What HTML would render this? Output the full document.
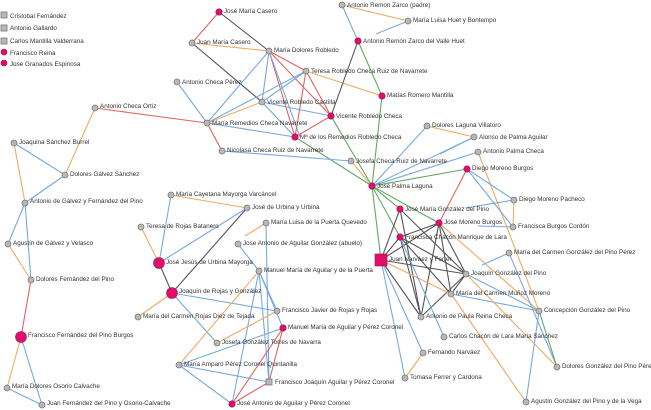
<!DOCTYPE html>
<html><head><meta charset="utf-8"><style>
html,body{margin:0;padding:0;background:#fff;width:651px;height:410px;overflow:hidden}
svg text{font-family:"Liberation Sans",sans-serif;font-size:6.3px;fill:#333}
.b{stroke:#76a9e0}.o{stroke:#f0aa66}.r{stroke:#e06464}.d{stroke:#555}.g{stroke:#62a862}
line{stroke-width:1.1}
.n{fill:#b8b8b8;stroke:#777;stroke-width:0.8}
.p{fill:#e0106a;stroke:#a01050;stroke-width:0.6}
</style></head><body>
<svg width="651" height="410" viewBox="0 0 651 410" xmlns="http://www.w3.org/2000/svg">
<g>
<line class="r" x1="219" y1="12" x2="192" y2="43"/>
<line class="d" x1="219" y1="12" x2="269" y2="51"/>
<line class="o" x1="192" y1="43" x2="269" y2="51"/>
<line class="d" x1="192" y1="43" x2="262" y2="102"/>
<line class="b" x1="269" y1="51" x2="207" y2="123"/>
<line class="b" x1="269" y1="51" x2="262" y2="102"/>
<line class="r" x1="269" y1="51" x2="295" y2="137"/>
<line class="r" x1="269" y1="51" x2="331" y2="116"/>
<line class="r" x1="269" y1="51" x2="306" y2="71"/>
<line class="b" x1="269" y1="51" x2="300" y2="137"/>
<line class="b" x1="306" y1="71" x2="207" y2="123"/>
<line class="b" x1="306" y1="71" x2="262" y2="102"/>
<line class="r" x1="306" y1="71" x2="295" y2="137"/>
<line class="r" x1="306" y1="71" x2="331" y2="116"/>
<line class="o" x1="306" y1="71" x2="382" y2="96"/>
<line class="b" x1="177" y1="82" x2="207" y2="123"/>
<line class="r" x1="207" y1="123" x2="95" y2="108"/>
<line class="r" x1="207" y1="123" x2="222" y2="151"/>
<line class="o" x1="207" y1="123" x2="262" y2="102"/>
<line class="b" x1="207" y1="123" x2="295" y2="137"/>
<line class="b" x1="262" y1="102" x2="331" y2="116"/>
<line class="b" x1="262" y1="102" x2="295" y2="137"/>
<line class="r" x1="331" y1="116" x2="295" y2="137"/>
<line class="d" x1="331" y1="116" x2="358" y2="41"/>
<line class="g" x1="331" y1="116" x2="372" y2="186"/>
<line class="g" x1="295" y1="137" x2="372" y2="186"/>
<line class="b" x1="222" y1="151" x2="351" y2="161"/>
<line class="o" x1="351" y1="161" x2="372" y2="186"/>
<line class="o" x1="342" y1="5" x2="408" y2="21"/>
<line class="b" x1="342" y1="5" x2="358" y2="41"/>
<line class="b" x1="408" y1="21" x2="376" y2="34"/>
<line class="g" x1="358" y1="41" x2="382" y2="96"/>
<line class="g" x1="382" y1="96" x2="372" y2="186"/>
<line class="b" x1="372" y1="186" x2="427" y2="126"/>
<line class="b" x1="372" y1="186" x2="474" y2="137"/>
<line class="b" x1="372" y1="186" x2="478" y2="152"/>
<line class="b" x1="440" y1="154" x2="474" y2="137"/>
<line class="g" x1="372" y1="186" x2="467" y2="169"/>
<line class="g" x1="372" y1="186" x2="400" y2="209"/>
<line class="g" x1="372" y1="186" x2="439" y2="223"/>
<line class="g" x1="372" y1="186" x2="381" y2="260"/>
<line class="g" x1="372" y1="186" x2="400" y2="237"/>
<line class="o" x1="427" y1="126" x2="474" y2="137"/>
<line class="o" x1="478" y1="152" x2="539" y2="311"/>
<line class="r" x1="467" y1="169" x2="439" y2="223"/>
<line class="b" x1="467" y1="169" x2="514" y2="200"/>
<line class="b" x1="467" y1="169" x2="513" y2="227"/>
<line class="o" x1="514" y1="200" x2="513" y2="227"/>
<line class="b" x1="465" y1="208" x2="514" y2="200"/>
<line class="b" x1="478" y1="226" x2="513" y2="227"/>
<line class="d" x1="400" y1="209" x2="381" y2="260"/>
<line class="d" x1="400" y1="209" x2="421" y2="317"/>
<line class="d" x1="400" y1="209" x2="466" y2="274"/>
<line class="d" x1="439" y1="223" x2="381" y2="260"/>
<line class="d" x1="439" y1="223" x2="400" y2="237"/>
<line class="d" x1="439" y1="223" x2="421" y2="317"/>
<line class="d" x1="439" y1="223" x2="451" y2="294"/>
<line class="d" x1="439" y1="223" x2="466" y2="274"/>
<line class="d" x1="400" y1="237" x2="381" y2="260"/>
<line class="d" x1="400" y1="237" x2="451" y2="294"/>
<line class="d" x1="400" y1="237" x2="466" y2="274"/>
<line class="d" x1="381" y1="260" x2="466" y2="274"/>
<line class="d" x1="381" y1="260" x2="421" y2="317"/>
<line class="d" x1="451" y1="294" x2="466" y2="274"/>
<line class="d" x1="421" y1="317" x2="466" y2="274"/>
<line class="d" x1="400" y1="237" x2="421" y2="317"/>
<line class="o" x1="381" y1="260" x2="451" y2="294"/>
<line class="b" x1="381" y1="260" x2="423" y2="353"/>
<line class="b" x1="381" y1="260" x2="405" y2="378"/>
<line class="o" x1="423" y1="353" x2="405" y2="378"/>
<line class="b" x1="400" y1="237" x2="444" y2="337"/>
<line class="o" x1="439" y1="223" x2="539" y2="311"/>
<line class="b" x1="451" y1="294" x2="539" y2="311"/>
<line class="b" x1="466" y1="274" x2="539" y2="311"/>
<line class="b" x1="482" y1="265" x2="509" y2="253"/>
<line class="b" x1="509" y1="253" x2="557" y2="367"/>
<line class="g" x1="539" y1="311" x2="557" y2="367"/>
<line class="b" x1="539" y1="311" x2="526" y2="402"/>
<line class="o" x1="451" y1="294" x2="526" y2="402"/>
<line class="o" x1="466" y1="274" x2="557" y2="367"/>
<line class="o" x1="95" y1="108" x2="65" y2="175"/>
<line class="b" x1="14" y1="143" x2="65" y2="175"/>
<line class="o" x1="14" y1="143" x2="25" y2="203"/>
<line class="b" x1="65" y1="175" x2="25" y2="203"/>
<line class="b" x1="25" y1="203" x2="8" y2="244"/>
<line class="b" x1="25" y1="203" x2="31" y2="280"/>
<line class="o" x1="8" y1="244" x2="31" y2="280"/>
<line class="r" x1="31" y1="280" x2="21" y2="337"/>
<line class="o" x1="21" y1="337" x2="7" y2="388"/>
<line class="b" x1="21" y1="337" x2="42" y2="405"/>
<line class="b" x1="7" y1="388" x2="42" y2="405"/>
<line class="o" x1="171" y1="195" x2="247" y2="208"/>
<line class="b" x1="171" y1="195" x2="159" y2="263"/>
<line class="o" x1="141" y1="227" x2="159" y2="263"/>
<line class="b" x1="247" y1="208" x2="159" y2="263"/>
<line class="d" x1="247" y1="208" x2="172" y2="293"/>
<line class="d" x1="159" y1="263" x2="172" y2="293"/>
<line class="o" x1="172" y1="293" x2="138" y2="317"/>
<line class="b" x1="172" y1="293" x2="277" y2="311"/>
<line class="b" x1="172" y1="293" x2="217" y2="343"/>
<line class="o" x1="266" y1="223" x2="245" y2="236"/>
<line class="b" x1="266" y1="223" x2="269" y2="382"/>
<line class="b" x1="238" y1="244" x2="259" y2="271"/>
<line class="b" x1="259" y1="271" x2="277" y2="311"/>
<line class="b" x1="259" y1="271" x2="232" y2="404"/>
<line class="b" x1="259" y1="271" x2="269" y2="382"/>
<line class="b" x1="259" y1="271" x2="283" y2="328"/>
<line class="o" x1="259" y1="271" x2="179" y2="365"/>
<line class="o" x1="277" y1="311" x2="217" y2="343"/>
<line class="b" x1="283" y1="328" x2="179" y2="365"/>
<line class="b" x1="179" y1="365" x2="269" y2="382"/>
<line class="b" x1="179" y1="365" x2="232" y2="404"/>
<line class="r" x1="283" y1="328" x2="232" y2="404"/>
<line class="r" x1="283" y1="328" x2="269" y2="382"/>
<line class="r" x1="269" y1="382" x2="232" y2="404"/>
</g>
<rect x="1" y="12" width="6" height="6" class="n"/><text x="10" y="18">Cristobal Fernández</text>
<rect x="1" y="25" width="6" height="6" class="n"/><text x="10" y="30">Antonio Gallardo</text>
<rect x="1" y="38" width="6" height="6" class="n"/><text x="10" y="43">Carlos Mantilla Valderrana</text>
<circle cx="4" cy="52" r="3" class="p"/><text x="10" y="55">Francisco Reina</text>
<circle cx="4" cy="63" r="3" class="p"/><text x="10" y="66">Jose Granados Espinosa</text>
<g>
<circle cx="219" cy="12" r="3.2" class="p"/><text x="224" y="13">José María Casero</text>
<circle cx="192" cy="43" r="3" class="n"/><text x="197" y="44">Juan María Casero</text>
<circle cx="269" cy="51" r="3" class="n"/><text x="274" y="52">María Dolores Robledo</text>
<circle cx="306" cy="71" r="3" class="n"/><text x="311" y="73">Teresa Robledo Checa Ruiz de Navarrete</text>
<circle cx="177" cy="82" r="3" class="n"/><text x="182" y="84">Antonio Checa Pérez</text>
<circle cx="262" cy="102" r="3" class="n"/><text x="267" y="104">Vicente Robledo Castilla</text>
<circle cx="331" cy="116" r="3.2" class="p"/><text x="336" y="118">Vicente Robledo Checa</text>
<circle cx="207" cy="123" r="3" class="n"/><text x="212" y="125">María Remedios Checa Navarrete</text>
<circle cx="295" cy="137" r="3.2" class="p"/><text x="300" y="139">Mª de los Remedios Robledo Checa</text>
<circle cx="222" cy="151" r="3" class="n"/><text x="227" y="152">Nicolasa Checa Ruiz de Navarrete</text>
<circle cx="351" cy="161" r="3" class="n"/><text x="356" y="163">Josefa Checa Ruiz de Navarrete</text>
<circle cx="372" cy="186" r="3.2" class="p"/><text x="377" y="188">José Palma Laguna</text>
<circle cx="342" cy="5" r="3" class="n"/><text x="347" y="7">Antonio Remon Zarco (padre)</text>
<circle cx="408" cy="21" r="3" class="n"/><text x="413" y="22">María Luisa Huet y Bontempo</text>
<circle cx="358" cy="41" r="3.2" class="p"/><text x="363" y="43">Antonio Remón Zarco del Valle Huet</text>
<circle cx="382" cy="96" r="3.2" class="p"/><text x="387" y="97">Matías Romero Mantilla</text>
<circle cx="427" cy="126" r="3" class="n"/><text x="432" y="127">Dolores Laguna Villatoro</text>
<circle cx="474" cy="137" r="3" class="n"/><text x="479" y="139">Alonso de Palma Aguilar</text>
<circle cx="478" cy="152" r="3" class="n"/><text x="483" y="153">Antonio Palma Checa</text>
<circle cx="467" cy="169" r="3.2" class="p"/><text x="472" y="170">Diego Moreno Burgos</text>
<circle cx="514" cy="200" r="3" class="n"/><text x="519" y="201">Diego Moreno Pacheco</text>
<circle cx="400" cy="209" r="3.2" class="p"/><text x="405" y="211">José María González del Pino</text>
<circle cx="439" cy="223" r="3.2" class="p"/><text x="444" y="224">José Moreno Burgos</text>
<circle cx="513" cy="227" r="3" class="n"/><text x="518" y="228">Francisca Burgos Cordón</text>
<circle cx="400" cy="237" r="3.2" class="p"/><text x="405" y="239">Francisca Chacón Manrique de Lara</text>
<rect x="375" y="254" width="12" height="12" class="p"/><text x="389" y="261">Juan Narváez y Ferrer</text>
<circle cx="509" cy="253" r="3" class="n"/><text x="514" y="254">María del Carmen González del Pino Pérez</text>
<circle cx="466" cy="274" r="3" class="n"/><text x="471" y="275">Joaquín González del Pino</text>
<circle cx="451" cy="294" r="3" class="n"/><text x="456" y="295">María del Carmen Muñoz Moreno</text>
<circle cx="539" cy="311" r="3" class="n"/><text x="544" y="312">Concepción González del Pino</text>
<circle cx="421" cy="317" r="3" class="n"/><text x="426" y="318">Antonio de Paula Reina Checa</text>
<circle cx="444" cy="337" r="3" class="n"/><text x="449" y="338">Carlos Chacón de Lara María Sánchez</text>
<circle cx="423" cy="353" r="3" class="n"/><text x="428" y="354">Fernando Narváez</text>
<circle cx="405" cy="378" r="3" class="n"/><text x="410" y="379">Tomasa Ferrer y Cardona</text>
<circle cx="557" cy="367" r="3" class="n"/><text x="562" y="368">Dolores González del Pino Pérez</text>
<circle cx="526" cy="402" r="3" class="n"/><text x="531" y="403">Agustín González del Pino y de la Vega</text>
<circle cx="95" cy="108" r="3" class="n"/><text x="100" y="108">Antonio Checa Ortiz</text>
<circle cx="14" cy="143" r="3" class="n"/><text x="19" y="144">Joaquina Sánchez Burrel</text>
<circle cx="65" cy="175" r="3" class="n"/><text x="70" y="176">Dolores Gálvez Sánchez</text>
<circle cx="25" cy="203" r="3" class="n"/><text x="30" y="203">Antonio de Gálvez y Fernández del Pino</text>
<circle cx="8" cy="244" r="3" class="n"/><text x="13" y="245">Agustín de Gálvez y Velasco</text>
<circle cx="31" cy="280" r="3" class="n"/><text x="36" y="281">Dolores Fernández del Pino</text>
<circle cx="21" cy="337" r="5.5" class="p"/><text x="28" y="337">Francisco Fernández del Pino Burgos</text>
<circle cx="7" cy="388" r="3" class="n"/><text x="12" y="388">María Dolores Osorio Calvache</text>
<circle cx="42" cy="405" r="3" class="n"/><text x="47" y="405">Juan Fernández del Pino y Osorio-Calvache</text>
<circle cx="171" cy="195" r="3" class="n"/><text x="176" y="196">María Cayetana Mayorga Varcáncel</text>
<circle cx="247" cy="208" r="3" class="n"/><text x="252" y="209">José de Urbina y Urbina</text>
<circle cx="141" cy="227" r="3" class="n"/><text x="146" y="228">Teresa de Rojas Batanero</text>
<circle cx="266" cy="223" r="3" class="n"/><text x="271" y="224">María Luisa de la Puerta Quevedo</text>
<circle cx="238" cy="244" r="3" class="n"/><text x="243" y="245">Jose Antonio de Aguilar González (abuelo)</text>
<circle cx="159" cy="263" r="5.5" class="p"/><text x="166" y="264">José Jesús de Urbina Mayorga</text>
<circle cx="259" cy="271" r="3" class="n"/><text x="264" y="272">Manuel María de Aguilar y de la Puerta</text>
<circle cx="172" cy="293" r="5.5" class="p"/><text x="179" y="293">Joaquín de Rojas y González</text>
<circle cx="138" cy="317" r="3" class="n"/><text x="143" y="318">María del Carmen Rojas Diez de Tejada</text>
<circle cx="277" cy="311" r="3" class="n"/><text x="282" y="312">Francisco Javier de Rojas y Rojas</text>
<circle cx="283" cy="328" r="3.2" class="p"/><text x="288" y="329">Manuel María de Aguilar y Pérez Coronel</text>
<circle cx="217" cy="343" r="3" class="n"/><text x="222" y="344">Josefa González Torres de Navarra</text>
<circle cx="179" cy="365" r="3" class="n"/><text x="184" y="366">María Amparo Pérez Coronel Quintanilla</text>
<rect x="266" y="379" width="6" height="6" class="n"/><text x="275" y="384">Francisco Joaquín Aguilar y Pérez Coronel</text>
<circle cx="232" cy="404" r="3.2" class="p"/><text x="237" y="405">José Antonio de Aguilar y Pérez Coronel</text>
</g>
</svg>
</body></html>
